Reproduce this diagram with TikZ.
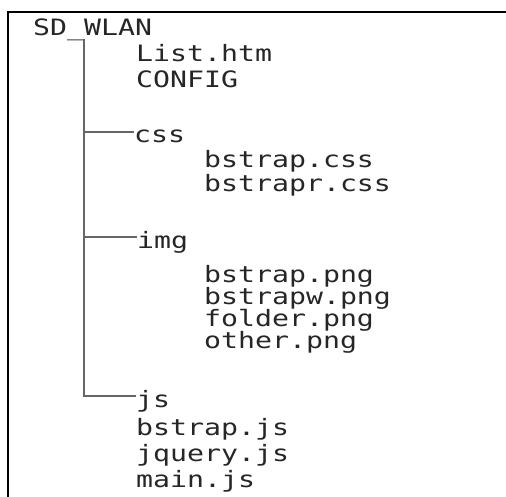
\documentclass[tikz,border=0pt]{standalone}
\usepackage{graphicx}
\usepackage{fontspec}
\newfontfamily\treefont{DejaVu Sans Mono}

\def\TextCol{black!85}
\def\LineCol{black!60}
% letras algo aplastadas, como en la captura
\newcommand\Squash[1]{\scalebox{1}[0.8]{#1}}

\tikzset{
  entry/.style={anchor=base west, inner sep=0pt, text height=22pt, text depth=0pt,
    font=\treefont\fontsize{28.2}{30}\selectfont, text=\TextCol},
  branch/.style={draw=\LineCol, line width=1.5pt}
}

\begin{document}
\begin{tikzpicture}[x=1pt,y=-1pt]
  \useasboundingbox (0,0) rectangle (506,497);
  % --- Marco ---
  \draw[line width=2pt] (506,12) -| (8,497);

  % --- Carpetas ---
  \node[entry] (root) at (33,36) {\Squash{SD\_WLAN}};
  \node[entry] (list) at (136,62) {\Squash{List.htm}};
  \node[entry] (config) at (136,88) {\Squash{CONFIG}};
  \node[entry] (css) at (134,143) {\Squash{css}};
  \node[entry] (img) at (137,248) {\Squash{img}};
  \node[entry] (js) at (136,407) {\Squash{js}};

  % --- Ficheros ---
  \foreach \n/\x/\y/\t in {%
    cssA/204/168/bstrap.css, cssB/204/192/bstrapr.css,
    pngA/204/282/bstrap.png, pngB/204/304/bstrapw.png,
    pngC/204/326/folder.png, pngD/204/348/other.png,
    jsA/136/435/bstrap.js, jsB/136/461/jquery.js, jsC/136/487/main.js%
  }{
    \node[entry] (\n) at (\x,\y) {\Squash{\t}};
  }

  % --- Ramas ---
  \coordinate (trunk) at (84,39);
  \draw[branch] (trunk) |- (js.west);
  \draw[branch] (trunk |- css.west) -- (css.west);
  \draw[branch] (trunk |- img.west) -- (img.west);
\end{tikzpicture}
\end{document}
